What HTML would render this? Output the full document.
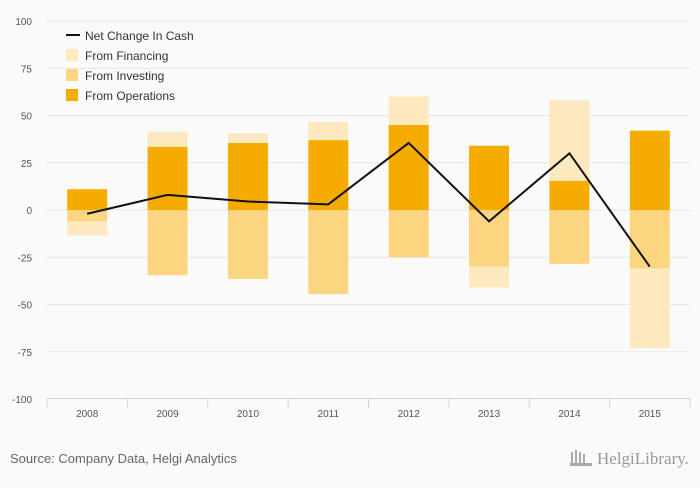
<!DOCTYPE html>
<html><head><meta charset="utf-8"><style>
body{margin:0;background:#fafafa;font-family:"Liberation Sans",sans-serif;}
svg text{font-family:"Liberation Sans",sans-serif;}
</style></head><body>
<svg width="700" height="483" id="c">
<rect width="700" height="483" fill="#fafafa"/>
<g id="grid"></g><g id="bars"></g><g id="line"></g><g id="axis"></g>
<g>
<line x1="66" y1="35" x2="80" y2="35" stroke="#111" stroke-width="2"/>
<text x="85" y="40" font-size="12" fill="#333">Net Change In Cash</text>
<rect x="66" y="49" width="12" height="12" fill="#fde9c0"/>
<text x="85" y="60" font-size="12" fill="#333">From Financing</text>
<rect x="66" y="69" width="12" height="12" fill="#fcd581"/>
<text x="85" y="80" font-size="12" fill="#333">From Investing</text>
<rect x="66" y="89" width="12" height="12" fill="#f5ab00"/>
<text x="85" y="100" font-size="12" fill="#333">From Operations</text>
</g>
<text x="10" y="463" font-size="13" fill="#666">Source: Company Data, Helgi Analytics</text>
<text x="597" y="464" font-size="17" fill="#999" style="font-family:'Liberation Serif',serif">HelgiLibrary.</text>
<g fill="#aaa"><rect x="571" y="452" width="2" height="14"/><rect x="575" y="450" width="2" height="16"/><rect x="579" y="452" width="2" height="14"/><rect x="583" y="454" width="2" height="12"/><rect x="570" y="463" width="22" height="3"/></g>
</svg>
<script>
const categories=["2008","2009","2010","2011","2012","2013","2014","2015"];
const operations=[11,33.5,35.5,37,45,34,15.5,42];
const investing=[-6,-34.5,-36.5,-44.5,-25,-30,-28.5,-31];
const financing=[-7.5,8,5,9.5,15,-11,42.5,-42];
const netChange=[-2,8,4.5,3,35.5,-6,30,-30];
const yTicks=[100,75,50,25,0,-25,-50,-75,-100];
const NS="http://www.w3.org/2000/svg";
const x0=47,x1=690,step=(x1-x0)/categories.length;
const y=v=>210-v*1.89;
const xc=i=>x0+step*(i+0.5);
function mk(t,a,p){const e=document.createElementNS(NS,t);for(const k in a)e.setAttribute(k,a[k]);document.getElementById(p).appendChild(e);return e;}
yTicks.forEach(v=>{
 if(v!==-100){const l=mk('line',{x1:x0,x2:x1,y1:y(v),y2:y(v),stroke:'#e6e6e6'},'grid');
 
 }
 const t=mk('text',{x:32,y:y(v)+4,'font-size':10,fill:'#555','text-anchor':'end'},'axis');t.textContent=v;
 
 
});
mk('line',{x1:x0,x2:x1,y1:398.5,y2:398.5,stroke:'#ccd6eb'},'axis');
categories.forEach((c,i)=>{
 const tk=mk('line',{x1:x0+step*i,x2:x0+step*i,y1:398,y2:408,stroke:'#ccd6eb'},'axis');
 if(i===categories.length-1)mk('line',{x1:x1,x2:x1,y1:398,y2:408,stroke:'#ccd6eb'},'axis');
 const t=mk('text',{x:xc(i),y:417,'font-size':10,fill:'#555','text-anchor':'middle'},'axis');t.textContent=c;
 
 
 let pos=0,neg=0;
 [[operations,'#f5ab00','operations'],[investing,'#fcd581','investing'],[financing,'#fde9c0','financing']].forEach(([arr,col,nm])=>{
  const v=arr[i];let a,b;
  if(v>=0){a=pos;b=pos+v;pos=b;}else{a=neg;b=neg+v;neg=b;}
  const r=mk('rect',{x:xc(i)-20,width:40,y:Math.min(y(a),y(b)),height:Math.abs(y(a)-y(b)),fill:col},'bars');
  
  
 });
});
const p=mk('polyline',{points:netChange.map((v,i)=>xc(i)+','+y(v)).join(' '),fill:'none',stroke:'#111','stroke-width':2},'line');


</script>
</body></html>
